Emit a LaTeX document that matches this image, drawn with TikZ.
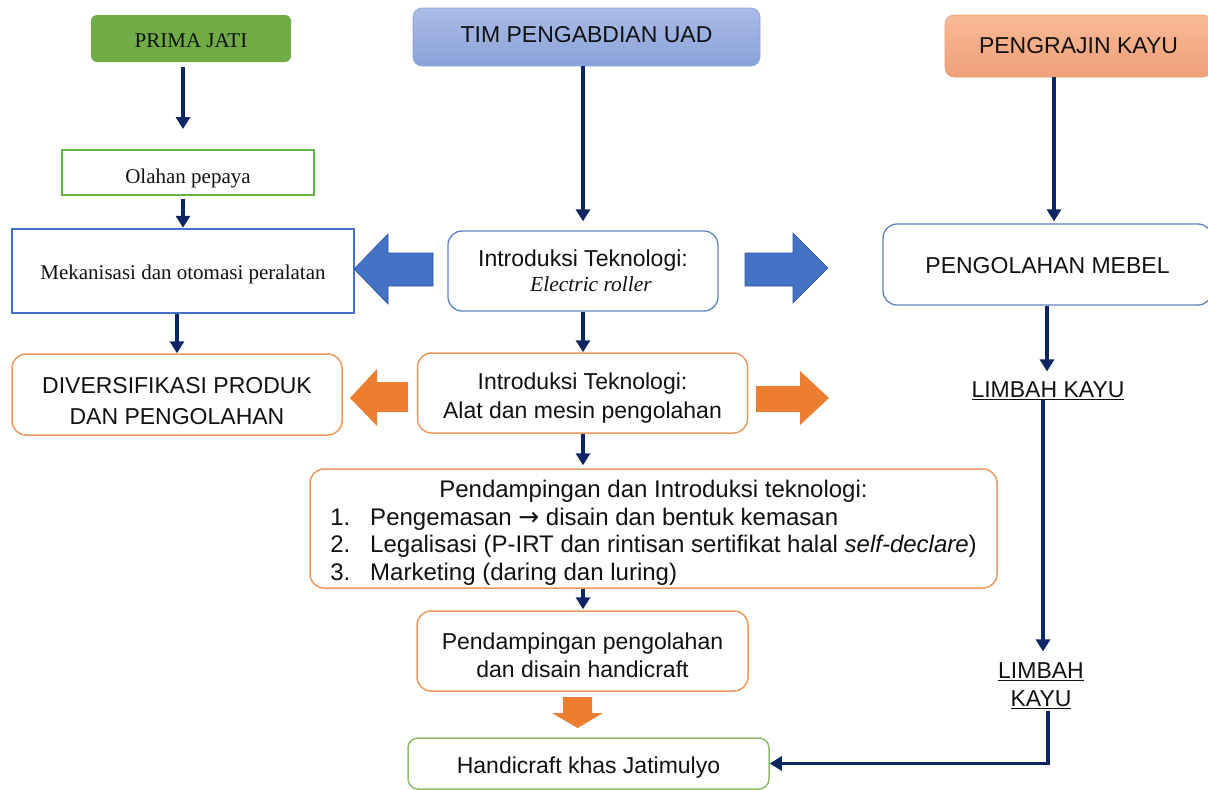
\documentclass[tikz,border=0pt]{standalone}
\usepackage{fontspec}
\setmainfont{Liberation Serif}
\setsansfont{Liberation Sans}
\newfontfamily\arrowfont{DejaVu Sans}
\usetikzlibrary{arrows.meta,calc}
\newcommand{\lowr}[2]{\raisebox{-#1}[\height][\depth]{#2}}
\definecolor{navy}{RGB}{12,38,100}
\definecolor{greenF}{RGB}{112,173,71}
\definecolor{greenL}{RGB}{100,180,70}
\definecolor{greenH}{RGB}{143,190,106}
\definecolor{timtop}{RGB}{170,188,230}
\definecolor{timbot}{RGB}{138,162,218}
\definecolor{pengtop}{RGB}{247,186,150}
\definecolor{pengbot}{RGB}{240,160,120}
\definecolor{blueA}{RGB}{68,114,196}
\definecolor{blueE}{RGB}{47,85,151}
\definecolor{blueL}{RGB}{95,130,195}
\definecolor{orangeA}{RGB}{237,125,49}
\definecolor{orangeL}{RGB}{236,155,95}
\definecolor{txt}{RGB}{17,17,17}
\begin{document}
\begin{tikzpicture}[x=1pt,y=-1pt,
  arr/.style={draw=navy, line width=3.5pt, -{Triangle[width=14pt,length=12pt]}},
  sans/.style={font=\fontsize{23}{29}\selectfont\sffamily, text=txt, align=center},
  serif/.style={font=\fontsize{21}{25}\selectfont\rmfamily, text=txt, align=center},
  boxb/.style={inner sep=0pt, minimum width=#1},
  orbox/.style={draw=orangeL, line width=1.5pt, rounded corners=14pt, fill=white},
  blbox/.style={draw=blueL, line width=1.3pt, rounded corners=14pt, fill=white},
  blockblue/.style={fill=blueA, draw=blueE, line width=0.6pt},
  blockorange/.style={fill=orangeA, draw=none}
]
\useasboundingbox (0,0) rectangle (1208,790);

% ---------- top boxes ----------
\node[serif, boxb=200pt, minimum height=47pt, fill=greenF, rounded corners=6pt] (prima) at (191,38.5) {\lowr{2pt}{PRIMA JATI}};
\node[sans, boxb=347pt, minimum height=58pt, top color=timtop, bottom color=timbot, draw=timbot, line width=0.6pt, rounded corners=9pt] (tim) at (586.5,37) {\lowr{-2pt}{TIM PENGABDIAN UAD}};
\node[sans, boxb=267pt, minimum height=62pt, top color=pengtop, bottom color=pengbot, draw=pengbot, line width=0.6pt, rounded corners=9pt] (peng) at (1078.5,46) {PENGRAJIN KAYU};

% ---------- second row ----------
\node[serif, boxb=252pt, minimum height=45pt, draw=greenL, line width=2pt] (olahan) at (188,172.5) {\lowr{6pt}{Olahan pepaya}};
\node[serif, boxb=342pt, minimum height=84pt, draw=blueA, line width=2.5pt] (mek) at (183,271) {\lowr{3pt}{Mekanisasi dan otomasi peralatan}};
\node[sans, blbox, boxb=270pt, minimum height=80pt, font=\fontsize{23}{25}\selectfont\sffamily] (intro1) at (583,271)
  {Introduksi Teknologi:\\ \hspace*{16pt}{\fontsize{21.5}{25}\selectfont\rmfamily\itshape Electric roller}};
\node[sans, blbox, boxb=329pt, minimum height=81pt] (mebel) at (1047.5,264.5) {\lowr{1pt}{PENGOLAHAN MEBEL}};

% ---------- third row ----------
\node[sans, orbox, boxb=330pt, minimum height=81pt, font=\fontsize{23}{31}\selectfont\sffamily] (div) at (177,394.5)
  {\lowr{7pt}{DIVERSIFIKASI PRODUK}\\\lowr{7pt}{DAN PENGOLAHAN}};
\node[sans, orbox, boxb=330pt, minimum height=80pt] (intro2) at (582.5,393)
  {\lowr{5pt}{Introduksi Teknologi:}\\\lowr{5pt}{Alat dan mesin pengolahan}};
\node[sans] (limbah1) at (1048,389) {\lowr{2pt}{\underline{LIMBAH KAYU}}};

% ---------- pendampingan ----------
\node[orbox, boxb=687pt, minimum height=119pt, text=txt, font=\fontsize{24}{27.5}\selectfont\sffamily] (pend) at (653.5,528.5)
  {\lowr{5pt}{\begin{tabular}{@{}l@{}l@{}}
   \multicolumn{2}{@{}c@{}}{Pendampingan dan Introduksi teknologi:}\\
   \makebox[40pt][l]{1.} & Pengemasan {\arrowfont\fontsize{25}{27}\selectfont →} disain dan bentuk kemasan\\
   \makebox[40pt][l]{2.} & Legalisasi (P-IRT dan rintisan sertifikat halal \textit{self-declare})\\
   \makebox[40pt][l]{3.} & Marketing (daring dan luring)
   \end{tabular}}};
\node[sans, orbox, boxb=331pt, minimum height=80pt, font=\fontsize{23}{28}\selectfont\sffamily] (pp) at (582.5,651)
  {\lowr{4pt}{Pendampingan pengolahan}\\\lowr{4pt}{dan disain handicraft}};
\node[sans, draw=greenH, line width=1.5pt, rounded corners=10pt, boxb=361pt, minimum height=51pt] (hand) at (588.5,763.5)
  {\lowr{4pt}{Handicraft khas Jatimulyo}};
\node[sans, font=\fontsize{23}{28}\selectfont\sffamily] (limbah2) at (1041,682)
  {\lowr{4pt}{\underline{LIMBAH}}\\\lowr{4pt}{\underline{KAYU}}};

% ---------- connectors ----------
\draw[arr] ($(prima.south)+(-8,5)$) -- ($(olahan.north)+(-5,-20)$);
\draw[arr] ($(olahan.south)+(-5,3)$) -- ($(mek.north)+(0,0)$);
\draw[arr] ($(mek.south)+(-6,0)$) -- (div.north);
\draw[arr] ($(tim.south)+(-3.5,0)$) -- ($(intro1.north)+(0,-9)$);
\draw[arr] (intro1.south) -- (intro1.south |- intro2.north);
\draw[arr] ($(intro2.south)+(0.5,0)$) -- ($(intro2.south |- pend.north)+(0.5,-3)$);
\draw[arr] ($(pend.south)+(-70.5,0)$) -- ($(pp.north)+(0.5,-1)$);
\draw[arr] ($(peng.south)+(-24.5,0)$) -- ($(mebel.north)+(6.5,-2)$);
\draw[arr] ($(mebel.south)+(-0.5,0)$) -- ($(limbah1.north)+(-1,-5)$);
\draw[arr] ($(limbah1.south)+(-5,-2)$) -- ($(limbah2.north)+(2,-4)$);
\draw[arr] ($(limbah2.south)+(7,2)$) |- (hand.east);

% ---------- block arrows ----------
\filldraw[blockblue] (354,269) -- (388,234) -- (388,253) -- (433,253) -- (433,286) -- (388,286) -- (388,304) -- cycle;
\filldraw[blockblue] (745,253) -- (793,253) -- (793,233) -- (828,268) -- (793,303) -- (793,286) -- (745,286) -- cycle;
\fill[blockorange] (350,398) -- (377,369) -- (377,382) -- (408,382) -- (408,412) -- (377,412) -- (377,426) -- cycle;
\fill[blockorange] (756,386) -- (800,386) -- (800,371) -- (829,398) -- (800,425) -- (800,412) -- (756,412) -- cycle;
\fill[blockorange] (563,697) -- (592,697) -- (592,713) -- (603,713) -- (577.5,728) -- (552,713) -- (563,713) -- cycle;
\end{tikzpicture}
\end{document}
